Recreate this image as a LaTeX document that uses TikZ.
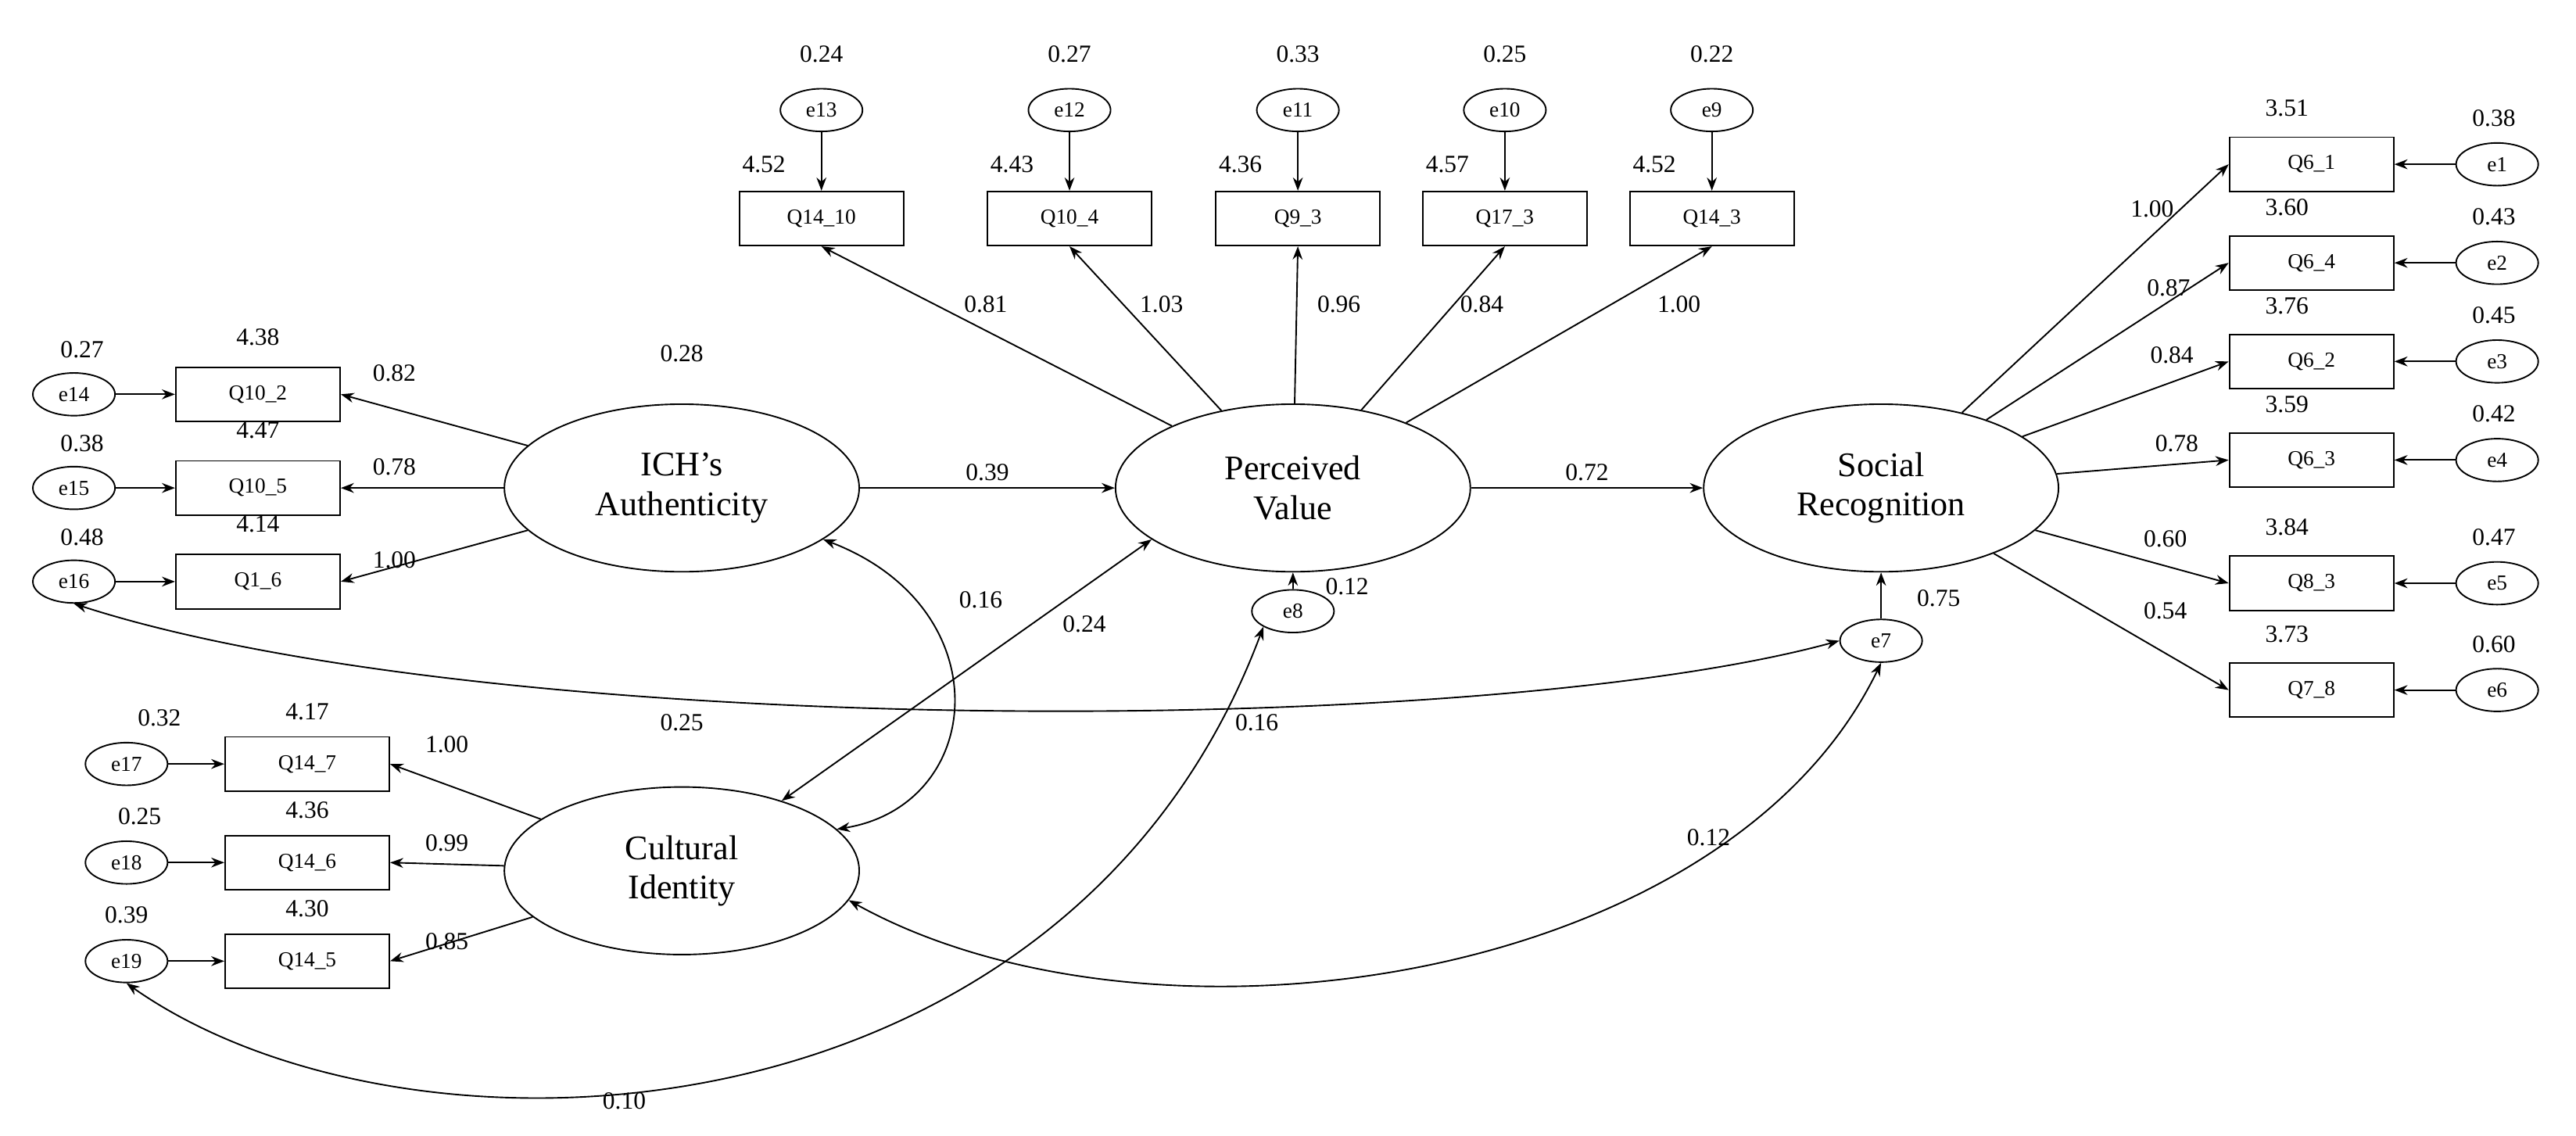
\documentclass[tikz,border=0pt]{standalone}
\usepackage{fontspec}
\setmainfont{Liberation Serif}
\usetikzlibrary{arrows.meta,shapes.geometric}
\begin{document}
\begin{tikzpicture}[x=1pt,y=-1pt,
  >={Stealth[length=8pt,width=6pt]},
  font=\fontsize{15}{17}\selectfont,
  lat/.style={draw,ellipse,minimum width=216pt,minimum height=102pt,align=center,font=\fontsize{21}{24}\selectfont,inner sep=0pt},
  box/.style={draw,rectangle,minimum width=100pt,minimum height=33pt,inner sep=0pt,font=\fontsize{13}{15}\selectfont},
  err/.style={draw,ellipse,minimum width=50pt,minimum height=26pt,inner sep=0pt,font=\fontsize{13}{15}\selectfont},
  lab/.style={inner sep=1pt},
  line width=0.9pt]
\useasboundingbox (0,0) rectangle (1568,691);
% latent
\node[lat] (ich) at (415,297) {ICH's\\Authenticity};
\node[lat] (pv) at (787,297) {Perceived\\Value};
\node[lat] (sr) at (1145,297) {Social\\Recognition};
\node[lat] (ci) at (415,530) {Cultural\\Identity};
% top indicators
\foreach \n/\t/\e/\x/\ev/\mv/\lv/\lx in {a/Q14\_10/e13/500/0.24/4.52/0.81/600, b/Q10\_4/e12/651/0.27/4.43/1.03/707, c/Q9\_3/e11/790/0.33/4.36/0.96/815, d/Q17\_3/e10/916/0.25/4.57/0.84/902, f/Q14\_3/e9/1042/0.22/4.52/1.00/1022}{
  \node[box] (\n) at (\x,133) {\t};
  \node[err] (e\n) at (\x,67) {\e};
  \node[lab] (v\n) at (\x,33) {\ev};
  \node[lab] (m\n) at (\x-35,100) {\mv};
  \node[lab] (l\n) at (\lx,185) {\lv};
  \draw[->] (e\n) -- (\n);
  \draw[->] (pv) -- (\n.south);
}
% ICH indicators
\foreach \n/\t/\e/\y/\ev/\mv/\lv in {g/Q10\_2/e14/240/0.27/4.38/0.82, h/Q10\_5/e15/297/0.38/4.47/0.78, i/Q1\_6/e16/354/0.48/4.14/1.00}{
  \node[box] (\n) at (157,\y) {\t};
  \node[err] (e\n) at (45,\y) {\e};
  \node[lab] (v\n) at (50,\y-27) {\ev};
  \node[lab] (m\n) at (157,\y-35) {\mv};
  \node[lab] (l\n) at (240,\y-13) {\lv};
  \draw[->] (e\n) -- (\n);
  \draw[->] (ich) -- (\n.east);
}
\node[lab] (r1) at (415,215) {0.28};
% CI indicators
\foreach \n/\t/\e/\y/\ev/\vx/\mv/\lv in {j/Q14\_7/e17/465/0.32/97/4.17/1.00, k/Q14\_6/e18/525/0.25/85/4.36/0.99, l/Q14\_5/e19/585/0.39/77/4.30/0.85}{
  \node[box] (\n) at (187,\y) {\t};
  \node[err] (e\n) at (77,\y) {\e};
  \node[lab] (v\n) at (\vx,\y-28) {\ev};
  \node[lab] (m\n) at (187,\y-32) {\mv};
  \node[lab] (l\n) at (272,\y-12) {\lv};
  \draw[->] (e\n) -- (\n);
  \draw[->] (ci) -- (\n.east);
}
\node[lab] (r2) at (415,440) {0.25};
% SR indicators
\foreach \n/\t/\e/\y/\ev/\mv/\lv/\lx/\ly in {m/Q6\_1/e1/100/0.38/3.51/1.00/1310/127, o/Q6\_4/e2/160/0.43/3.60/0.87/1320/175, p/Q6\_2/e3/220/0.45/3.76/0.84/1322/216, q/Q6\_3/e4/280/0.42/3.59/0.78/1325/270, s/Q8\_3/e5/355/0.47/3.84/0.60/1318/328, t/Q7\_8/e6/420/0.60/3.73/0.54/1318/372}{
  \node[box] (\n) at (1407,\y) {\t};
  \node[err] (e\n) at (1520,\y) {\e};
  \node[lab] (v\n) at (1518,\y-28) {\ev};
  \node[lab] (m\n) at (1392,\y-34) {\mv};
  \node[lab] (l\n) at (\lx,\ly) {\lv};
  \draw[->] (e\n) -- (\n);
  \draw[->] (sr) -- (\n.west);
}
% disturbances
\node[err] (e8) at (787,372) {e8};
\node[err] (e7) at (1145,390) {e7};
\node[lab] (r3) at (820,357) {0.12};
\node[lab] (r4) at (1180,364) {0.75};
\draw[->] (e8) -- (pv);
\draw[->] (e7) -- (sr);
% structural
\draw[->] (ich) -- (pv) node[lab,midway,above=3pt] {0.39};
\draw[->] (pv) -- (sr) node[lab,midway,above=3pt] {0.72};
% covariances
\draw[<->] (ich.-20) .. controls (610,370) and (600,490) .. (ci.15);
\node[lab] (c1) at (597,365) {0.16};
\draw[<->] (ci.35) -- (pv.200);
\node[lab] (c2) at (660,380) {0.24};
\draw[<->] (ei.south) .. controls (300,450) and (900,450) .. (e7.west);
\node[lab] (c3) at (765,440) {0.16};
\draw[<->] (el.south) .. controls (250,720) and (650,700) .. (e8.south west);
\node[lab] (c4) at (380,670) {0.10};
\draw[<->] (ci.-10) .. controls (700,650) and (1050,600) .. (e7.south);
\node[lab] (c5) at (1040,510) {0.12};
\end{tikzpicture}
\end{document}
